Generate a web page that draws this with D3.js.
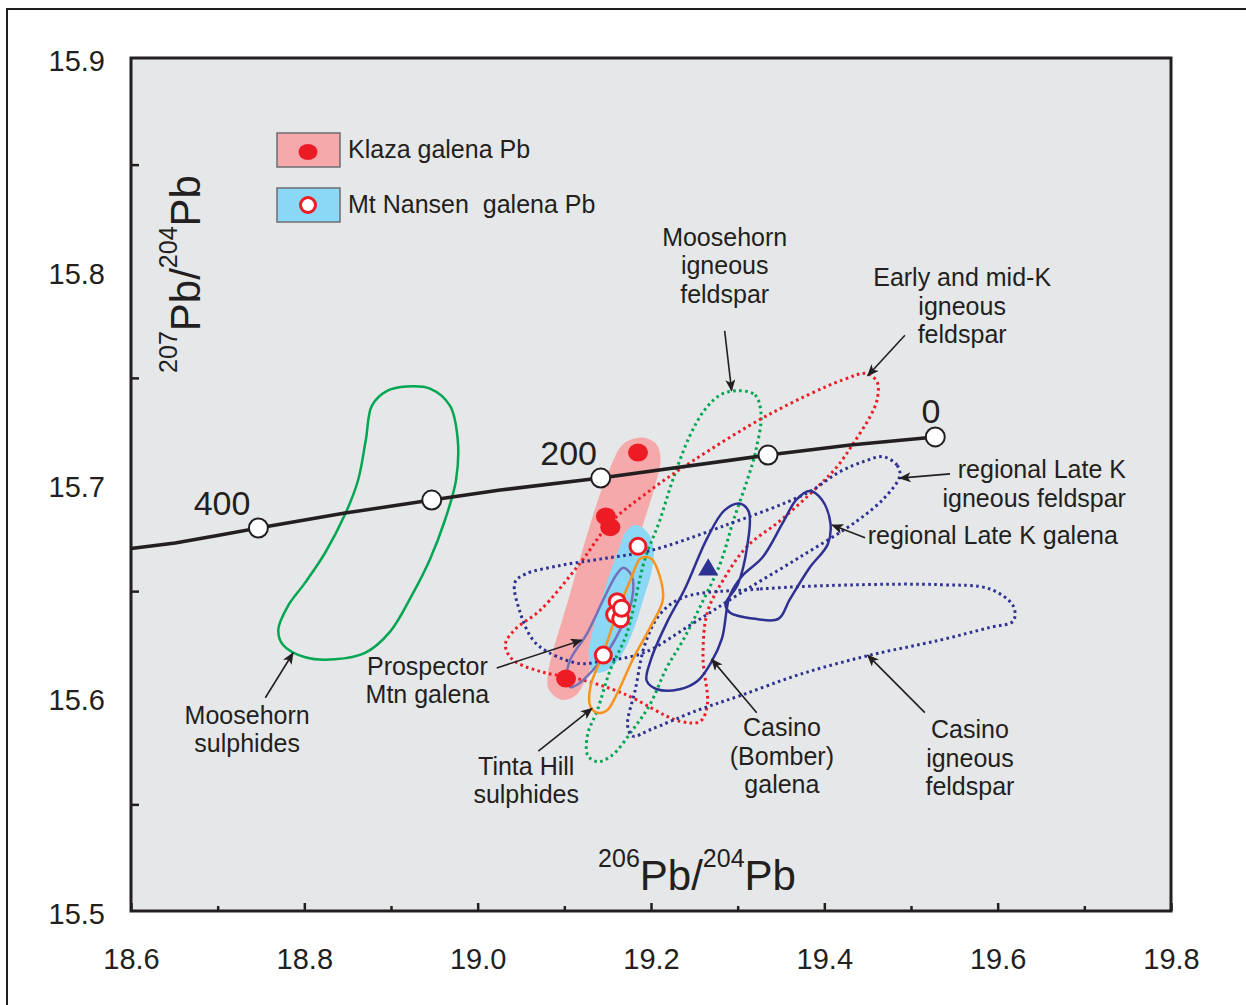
<!DOCTYPE html>
<html>
<head>
<meta charset="utf-8">
<script src="https://cdn.jsdelivr.net/npm/d3@7"></script>
<style>
  body { margin: 0; background: #fff; }
  text { font-family: "Liberation Sans", Arial, sans-serif; fill: #231f20; }
</style>
</head>
<body>
<div id="chart"></div>
<script>
// axis ticks
const xTicks = [18.6, 18.8, 19.0, 19.2, 19.4, 19.6, 19.8];
const xMinorTicks = [18.7, 18.9, 19.1, 19.3, 19.5, 19.7];
const yTicks = [15.5, 15.6, 15.7, 15.8, 15.9];
const yMinorTicks = [15.55, 15.65, 15.75, 15.85];

// Pb growth curve and age markers (Ma)
const growthCurve = [[18.600, 15.670], [18.651, 15.6726], [18.703, 15.6763], [18.747, 15.6796], [18.847, 15.6866],
  [18.947, 15.6927], [19.026, 15.6974], [19.142, 15.7030], [19.335, 15.7138], [19.430, 15.7185], [19.528, 15.7223]];
const growthMarkers = [[18.747, 15.6796], [18.947, 15.6927], [19.142, 15.7030], [19.335, 15.7138], [19.528, 15.7223]];
const ageLabels = [{ text: "400", at: [18.705, 15.6857] }, { text: "200", at: [19.105, 15.7091] }, { text: "0", at: [19.523, 15.7288] }];

// galena data points
const klazaPoints = [[19.185, 15.715], [19.148, 15.685], [19.153, 15.680], [19.102, 15.609]];
const nansenPoints = [[19.185, 15.671], [19.161, 15.645], [19.158, 15.639], [19.165, 15.637], [19.166, 15.642], [19.145, 15.620]];
const casinoPoint = [19.266, 15.660];

// fields (outlines)
const klazaField = [[19.190, 15.722], [19.206, 15.719], [19.211, 15.712], [19.205, 15.700], [19.193, 15.684], [19.176, 15.662],
  [19.156, 15.641], [19.138, 15.622], [19.125, 15.609], [19.113, 15.601], [19.097, 15.599], [19.082, 15.604], [19.081, 15.611],
  [19.087, 15.622], [19.101, 15.641], [19.118, 15.665], [19.135, 15.688], [19.152, 15.707], [19.168, 15.719]];
const nansenField = [[19.183, 15.681], [19.197, 15.677], [19.203, 15.670], [19.201, 15.660], [19.191, 15.646], [19.180, 15.632],
  [19.166, 15.620], [19.150, 15.613], [19.133, 15.612], [19.128, 15.620], [19.133, 15.632], [19.143, 15.646], [19.154, 15.660],
  [19.165, 15.672], [19.171, 15.678]];
const moosehornSulphides = [[18.918, 15.746], [18.945, 15.745], [18.968, 15.737], [18.977, 15.721], [18.975, 15.702], [18.962, 15.683],
  [18.945, 15.665], [18.924, 15.648], [18.899, 15.631], [18.870, 15.621], [18.835, 15.618], [18.801, 15.619], [18.775, 15.625],
  [18.770, 15.632], [18.781, 15.643], [18.801, 15.654], [18.824, 15.668], [18.847, 15.686], [18.862, 15.702], [18.871, 15.721],
  [18.878, 15.737], [18.896, 15.744]];
const moosehornFeldspar = [[19.300, 15.744], [19.320, 15.742], [19.327, 15.733], [19.321, 15.716], [19.311, 15.702], [19.295, 15.683],
  [19.280, 15.663], [19.257, 15.643], [19.237, 15.627], [19.218, 15.614], [19.199, 15.597], [19.179, 15.585], [19.155, 15.573],
  [19.138, 15.570], [19.127, 15.573], [19.127, 15.583], [19.138, 15.594], [19.153, 15.613], [19.172, 15.630], [19.193, 15.665],
  [19.210, 15.683], [19.225, 15.702], [19.245, 15.723], [19.262, 15.735], [19.280, 15.742]];
const earlyMidKFeldspar = [[19.449, 15.752], [19.461, 15.748], [19.461, 15.740], [19.453, 15.732], [19.433, 15.719], [19.416, 15.709],
  [19.395, 15.700], [19.349, 15.683], [19.311, 15.671], [19.283, 15.655], [19.265, 15.640], [19.260, 15.619], [19.265, 15.597],
  [19.257, 15.589], [19.233, 15.589], [19.168, 15.602], [19.115, 15.609], [19.075, 15.612], [19.040, 15.618], [19.032, 15.625],
  [19.043, 15.632], [19.072, 15.641], [19.118, 15.663], [19.153, 15.682], [19.195, 15.696], [19.248, 15.711], [19.337, 15.733],
  [19.421, 15.749]];
const lateKFeldspar = [[19.468, 15.713], [19.484, 15.709], [19.487, 15.704], [19.470, 15.694], [19.438, 15.683], [19.372, 15.666],
  [19.303, 15.649], [19.245, 15.634], [19.191, 15.621], [19.141, 15.617], [19.118, 15.616], [19.083, 15.621], [19.064, 15.627],
  [19.049, 15.640], [19.043, 15.654], [19.055, 15.658], [19.095, 15.662], [19.141, 15.665], [19.199, 15.669], [19.280, 15.680],
  [19.380, 15.696], [19.418, 15.706], [19.447, 15.711]];
const casinoFeldspar = [[19.237, 15.647], [19.326, 15.651], [19.441, 15.653], [19.533, 15.653], [19.591, 15.651], [19.618, 15.643],
  [19.618, 15.636], [19.591, 15.633], [19.533, 15.627], [19.453, 15.620], [19.372, 15.611], [19.303, 15.601], [19.253, 15.594],
  [19.199, 15.585], [19.179, 15.582], [19.173, 15.587], [19.182, 15.604], [19.193, 15.625], [19.210, 15.639]];
const casinoGalena = [[19.303, 15.691], [19.313, 15.687], [19.311, 15.671], [19.300, 15.653], [19.286, 15.644], [19.291, 15.640],
  [19.320, 15.637], [19.347, 15.637], [19.360, 15.646], [19.383, 15.661], [19.404, 15.672], [19.407, 15.682], [19.397, 15.693],
  [19.383, 15.697], [19.368, 15.693], [19.352, 15.682], [19.329, 15.666], [19.305, 15.657], [19.291, 15.648], [19.282, 15.628],
  [19.270, 15.617], [19.254, 15.608], [19.233, 15.604], [19.207, 15.604], [19.195, 15.608], [19.200, 15.618], [19.218, 15.635],
  [19.239, 15.651], [19.265, 15.675], [19.285, 15.688]];
const prospectorGalena = [[19.168, 15.661], [19.178, 15.657], [19.178, 15.646], [19.168, 15.635], [19.149, 15.621], [19.133, 15.613],
  [19.118, 15.607], [19.107, 15.605], [19.103, 15.610], [19.107, 15.618], [19.126, 15.630], [19.145, 15.646], [19.159, 15.657]];
const tintaHill = [[19.193, 15.666], [19.201, 15.665], [19.214, 15.647], [19.199, 15.633], [19.179, 15.618], [19.161, 15.602],
  [19.149, 15.594], [19.138, 15.593], [19.130, 15.596], [19.130, 15.605], [19.145, 15.621], [19.161, 15.640], [19.176, 15.655],
  [19.187, 15.665]];

// labels with arrows: text anchor point, arrow from -> to
const annotations = [
  { lines: ["Moosehorn", "sulphides"], at: [18.734, 15.592], anchor: "middle", arrow: [[18.755, 15.600], [18.787, 15.621]] },
  { lines: ["Prospector", "Mtn galena"], at: [18.942, 15.615], anchor: "middle", arrow: [[19.022, 15.614], [19.120, 15.627]] },
  { lines: ["Tinta Hill", "sulphides"], at: [19.056, 15.568], anchor: "middle", arrow: [[19.070, 15.575], [19.132, 15.595]] },
  { lines: ["Casino", "(Bomber)", "galena"], at: [19.351, 15.586], anchor: "middle", arrow: [[19.322, 15.593], [19.270, 15.618]] },
  { lines: ["Casino", "igneous", "feldspar"], at: [19.568, 15.585], anchor: "middle", arrow: [[19.516, 15.593], [19.450, 15.620]] },
  { lines: ["regional Late K", "igneous feldspar"], at: [19.748, 15.707], anchor: "end", arrow: [[19.545, 15.705], [19.487, 15.703]] },
  { lines: ["regional Late K galena"], at: [19.450, 15.676], anchor: "start", arrow: [[19.447, 15.675], [19.409, 15.681]] },
  { lines: ["Moosehorn", "igneous", "feldspar"], at: [19.285, 15.816], anchor: "middle", arrow: [[19.285, 15.772], [19.293, 15.744]] },
  { lines: ["Early and mid-K", "igneous", "feldspar"], at: [19.559, 15.797], anchor: "middle", arrow: [[19.493, 15.770], [19.450, 15.751]] }
];

const legendItems = ["Klaza galena Pb", "Mt Nansen  galena Pb"];

const ink = "#231f20";
const W = 1246, H = 1005;
const plot = { left: 131, right: 1171, top: 58, bottom: 911 };

const svg = d3.select("#chart").append("svg")
  .attr("width", W)
  .attr("height", H);

// outer frame
svg.append("rect")
  .attr("x", 7).attr("y", 9)
  .attr("width", W + 20).attr("height", H + 20)
  .attr("fill", "none")
  .attr("stroke", ink)
  .attr("stroke-width", 2);

const x = d3.scaleLinear().domain([18.6, 19.8]).range([plot.left, plot.right]);
const y = d3.scaleLinear().domain([15.5, 15.9]).range([plot.bottom, plot.top]);

svg.append("defs").append("marker")
  .attr("id", "arrow")
  .attr("viewBox", "0 0 12 10")
  .attr("refX", 11).attr("refY", 5)
  .attr("markerWidth", 14).attr("markerHeight", 10)
  .attr("markerUnits", "userSpaceOnUse")
  .attr("orient", "auto")
  .append("path")
  .attr("d", "M0,0 L12,5 L0,10 L3,5 Z")
  .attr("fill", ink);

svg.append("rect")
  .attr("x", plot.left).attr("y", plot.top)
  .attr("width", plot.right - plot.left).attr("height", plot.bottom - plot.top)
  .attr("fill", "#e6e7e8");

// axes
const xAxis = svg.append("g")
  .attr("transform", `translate(0,${plot.bottom})`)
  .call(d3.axisBottom(x).tickValues(xTicks).tickSizeInner(-8).tickSizeOuter(0).tickPadding(37).tickFormat(d3.format(".1f")));
svg.append("g")
  .attr("transform", `translate(0,${plot.bottom})`)
  .call(d3.axisBottom(x).tickValues(xMinorTicks).tickSizeInner(-5).tickSizeOuter(0).tickFormat(""));
const yAxis = svg.append("g")
  .attr("transform", `translate(${plot.left},0)`)
  .call(d3.axisLeft(y).tickValues(yTicks).tickSizeInner(0).tickSizeOuter(0).tickPadding(26).tickFormat(d3.format(".1f")));
svg.append("g")
  .attr("transform", `translate(${plot.left},0)`)
  .call(d3.axisLeft(y).tickValues(yMinorTicks).tickSizeInner(-8).tickSizeOuter(0).tickFormat(""));

svg.selectAll(".domain").remove();
svg.selectAll(".tick line").attr("stroke", ink).attr("stroke-width", 2.5);
xAxis.selectAll("text").attr("font-size", 29).attr("font-family", "Liberation Sans, Arial, sans-serif").attr("fill", ink);
yAxis.selectAll("text").attr("font-size", 29).attr("font-family", "Liberation Sans, Arial, sans-serif").attr("fill", ink).attr("dy", "0.42em");

svg.append("rect")
  .attr("x", plot.left).attr("y", plot.top)
  .attr("width", plot.right - plot.left).attr("height", plot.bottom - plot.top)
  .attr("fill", "none")
  .attr("stroke", ink)
  .attr("stroke-width", 3);

// axis titles
function isoTitle(g, first) {
  const t = g.append("text").attr("text-anchor", "middle").attr("font-size", 42);
  t.append("tspan").attr("font-size", 25).attr("dy", -23).text(first);
  t.append("tspan").attr("dy", 23).text("Pb/");
  t.append("tspan").attr("font-size", 25).attr("dy", -23).text("204");
  t.append("tspan").attr("dy", 23).text("Pb");
}
isoTitle(svg.append("g").attr("transform", "translate(697,890)"), "206");
isoTitle(svg.append("g").attr("transform", "translate(200,274) rotate(-90)"), "207");

// fields
const closed = d3.line().x(d => x(d[0])).y(d => y(d[1])).curve(d3.curveCatmullRomClosed.alpha(0.5));

svg.append("path").attr("d", closed(klazaField)).attr("fill", "#f6a9ab");
svg.append("path").attr("d", closed(nansenField)).attr("fill", "#8ad8f5");

const outlines = [
  { data: moosehornSulphides, color: "#00a651", dotted: false, width: 2.5 },
  { data: moosehornFeldspar, color: "#00a651", dotted: true, width: 3 },
  { data: earlyMidKFeldspar, color: "#ed1c24", dotted: true, width: 3 },
  { data: lateKFeldspar, color: "#2e3192", dotted: true, width: 3 },
  { data: casinoFeldspar, color: "#2e3192", dotted: true, width: 3 },
  { data: casinoGalena, color: "#2e3192", dotted: false, width: 2.5 },
  { data: prospectorGalena, color: "#7471b8", dotted: false, width: 2.5 },
  { data: tintaHill, color: "#f7941d", dotted: false, width: 2.5 }
];

svg.append("g").selectAll("path")
  .data(outlines)
  .join("path")
  .attr("d", d => closed(d.data))
  .attr("fill", "none")
  .attr("stroke", d => d.color)
  .attr("stroke-width", d => d.width)
  .attr("stroke-dasharray", d => d.dotted ? "2.6,3.4" : null);

// growth curve
svg.append("path")
  .datum(growthCurve)
  .attr("fill", "none")
  .attr("stroke", ink)
  .attr("stroke-width", 3.5)
  .attr("d", d3.line().x(d => x(d[0])).y(d => y(d[1])));

svg.append("g").selectAll("circle")
  .data(growthMarkers)
  .join("circle")
  .attr("cx", d => x(d[0])).attr("cy", d => y(d[1]))
  .attr("r", 9.5)
  .attr("fill", "#fff")
  .attr("stroke", ink)
  .attr("stroke-width", 2);

svg.append("g").selectAll("text")
  .data(ageLabels)
  .join("text")
  .attr("x", d => x(d.at[0])).attr("y", d => y(d.at[1]))
  .attr("text-anchor", "middle")
  .attr("font-size", 34)
  .text(d => d.text);

// data points
svg.append("g").selectAll("ellipse")
  .data(klazaPoints)
  .join("ellipse")
  .attr("cx", d => x(d[0])).attr("cy", d => y(d[1]))
  .attr("rx", 10).attr("ry", 9)
  .attr("fill", "#ed1c24");

svg.append("g").selectAll("circle")
  .data(nansenPoints)
  .join("circle")
  .attr("cx", d => x(d[0])).attr("cy", d => y(d[1]))
  .attr("r", 8)
  .attr("fill", "#fff")
  .attr("stroke", "#ed1c24")
  .attr("stroke-width", 3);

svg.append("path")
  .attr("transform", `translate(${x(casinoPoint[0])},${y(casinoPoint[1])})`)
  .attr("d", d3.symbol(d3.symbolTriangle, 175)())
  .attr("fill", "#2e3192");

// annotations
const ann = svg.append("g").selectAll("g")
  .data(annotations)
  .join("g");

ann.append("line")
  .attr("x1", d => x(d.arrow[0][0])).attr("y1", d => y(d.arrow[0][1]))
  .attr("x2", d => x(d.arrow[1][0])).attr("y2", d => y(d.arrow[1][1]))
  .attr("stroke", ink)
  .attr("stroke-width", 1.6)
  .attr("marker-end", "url(#arrow)");

ann.append("text")
  .attr("text-anchor", d => d.anchor)
  .attr("font-size", 25)
  .attr("transform", d => `translate(${x(d.at[0])},${y(d.at[1])})`)
  .selectAll("tspan")
  .data(d => d.lines)
  .join("tspan")
  .attr("x", 0)
  .attr("y", (d, i) => i * 28.5)
  .attr("dy", "0.35em")
  .text(d => d);

// legend
const legend = svg.append("g").attr("transform", "translate(277,133)");
const rows = legend.selectAll("g")
  .data(legendItems)
  .join("g")
  .attr("transform", (d, i) => `translate(0,${i * 55})`);
rows.append("rect")
  .attr("width", 63).attr("height", 34)
  .attr("fill", (d, i) => i === 0 ? "#f6a9ab" : "#8ad8f5")
  .attr("stroke", "#6d6e71")
  .attr("stroke-width", 1.5);
rows.filter((d, i) => i === 0).append("ellipse")
  .attr("cx", 31).attr("cy", 19).attr("rx", 9.5).attr("ry", 8)
  .attr("fill", "#ed1c24");
rows.filter((d, i) => i === 1).append("circle")
  .attr("cx", 31).attr("cy", 17).attr("r", 7.5)
  .attr("fill", "#fff").attr("stroke", "#ed1c24").attr("stroke-width", 3);
rows.append("text")
  .attr("x", 71).attr("y", 16)
  .attr("dy", "0.35em")
  .attr("font-size", 25)
  .style("white-space", "pre")
  .text(d => d);
</script>
</body>
</html>
